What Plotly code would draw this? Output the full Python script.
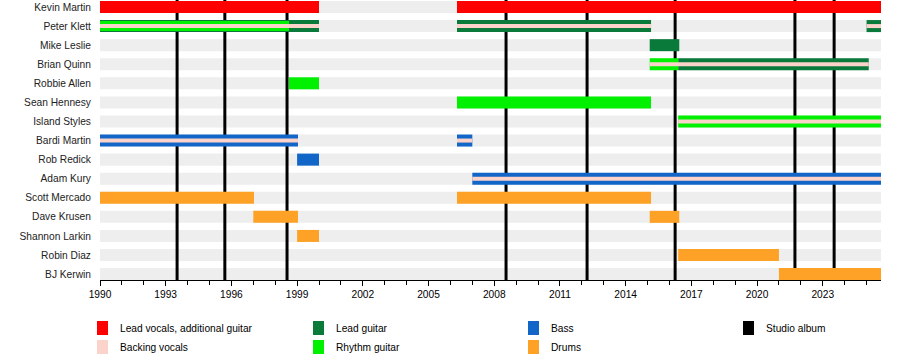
import plotly.graph_objects as go

END = 2025.66

members = ["Kevin Martin", "Peter Klett", "Mike Leslie", "Brian Quinn", "Robbie Allen",
           "Sean Hennesy", "Island Styles", "Bardi Martin", "Rob Redick", "Adam Kury",
           "Scott Mercado", "Dave Krusen", "Shannon Larkin", "Robin Diaz", "BJ Kerwin"]

lead_vocals = [("Kevin Martin", 1990.0, 2000.0), ("Kevin Martin", 2006.3, END)]
lead_guitar = [("Peter Klett", 1990.0, 2000.0), ("Peter Klett", 2006.3, 2015.16),
               ("Peter Klett", 2025.0, END), ("Mike Leslie", 2015.1, 2016.45),
               ("Brian Quinn", 2016.4, 2025.1)]
rhythm_guitar = [("Peter Klett", 1990.0, 1998.63), ("Brian Quinn", 2015.1, 2016.4),
                 ("Robbie Allen", 1998.63, 2000.0), ("Sean Hennesy", 2006.3, 2015.16),
                 ("Island Styles", 2016.4, END)]
bass = [("Bardi Martin", 1990.0, 1999.04), ("Bardi Martin", 2006.3, 2007.0),
        ("Rob Redick", 1999.0, 2000.0), ("Adam Kury", 2007.0, END)]
drums = [("Scott Mercado", 1990.0, 1997.03), ("Scott Mercado", 2006.3, 2015.16),
         ("Dave Krusen", 1997.0, 1999.04), ("Dave Krusen", 2015.1, 2016.45),
         ("Shannon Larkin", 1999.0, 2000.0), ("Robin Diaz", 2016.4, 2021.0),
         ("BJ Kerwin", 2021.0, END)]
backing_vocals = [("Peter Klett", 1990.0, 2000.0), ("Peter Klett", 2006.3, 2015.16),
                  ("Peter Klett", 2025.0, END), ("Brian Quinn", 2015.1, 2025.1),
                  ("Island Styles", 2016.4, END), ("Bardi Martin", 1990.0, 1999.04),
                  ("Bardi Martin", 2006.3, 2007.0), ("Adam Kury", 2007.0, END)]

studio_albums = [1993.52, 1995.7, 1998.54, 2008.54, 2012.24, 2016.26, 2021.73, 2023.52]

x_ticks = list(range(1990, 2024, 3))

legend_labels = ["Lead vocals, additional guitar", "Lead guitar", "Bass", "Studio album",
                 "Backing vocals", "Rhythm guitar", "Drums"]

COL = {
    "Lead vocals, additional guitar": "#ff0000",
    "Lead guitar": "#0a7a3a",
    "Bass": "#1166c8",
    "Studio album": "#000000",
    "Backing vocals": "#fcd3cb",
    "Rhythm guitar": "#00f000",
    "Drums": "#fda226",
}

FULL = 0.63
INNER = 0.52
THIN = 0.21
Y_TOP = -0.367
Y_BOT = 14.31
FS = 10.2

row = {m: i for i, m in enumerate(members)}


def overlaps(stints, name, s, e):
    return any(n == name and s < ee and e > ss for n, ss, ee in stints)


fig = go.Figure()


def add(stints, colour, widths):
    fig.add_trace(go.Bar(
        orientation="h",
        y=[row[n] for n, s, e in stints],
        x=[e - s for n, s, e in stints],
        base=[s for n, s, e in stints],
        width=widths,
        marker=dict(color=colour, line=dict(width=0)),
        showlegend=False,
        hoverinfo="skip",
    ))


add(lead_vocals, COL["Lead vocals, additional guitar"], [FULL] * len(lead_vocals))
add(lead_guitar, COL["Lead guitar"], [FULL] * len(lead_guitar))
add(rhythm_guitar, COL["Rhythm guitar"],
    [INNER if overlaps(lead_guitar, n, s, e) else FULL for n, s, e in rhythm_guitar])
add(bass, COL["Bass"], [FULL] * len(bass))
add(drums, COL["Drums"], [FULL] * len(drums))
add(backing_vocals, COL["Backing vocals"], [THIN] * len(backing_vocals))

shapes = []
for i in range(len(members)):
    shapes.append(dict(type="rect", xref="x", yref="y", x0=1990, x1=END,
                       y0=i - FULL / 2, y1=i + FULL / 2, fillcolor="#eeeeee",
                       line=dict(width=0), layer="below"))
for a in studio_albums:
    shapes.append(dict(type="line", xref="x", yref="y", x0=a, x1=a, y0=Y_TOP, y1=Y_BOT,
                       line=dict(color="#000000", width=3), layer="below"))

# legend (manual grid)
annotations = []
col_x = [97, 313, 528, 743]
row_y = [328, 347]
order = [(0, 0), (1, 0), (2, 0), (3, 0), (0, 1), (1, 1), (2, 1)]
for lab, (c, r) in zip(legend_labels, order):
    x0 = col_x[c]
    yc = row_y[r]
    shapes.append(dict(type="rect", xref="paper", yref="paper",
                       x0=(x0 - 100) / 781, x1=(x0 + 11 - 100) / 781,
                       y0=(280 - (yc + 7)) / 280, y1=(280 - (yc - 7)) / 280,
                       fillcolor=COL[lab], line=dict(width=0)))
    annotations.append(dict(xref="paper", yref="paper", x=(x0 + 21 - 100) / 781,
                            y=(280 - yc) / 280, text=lab, showarrow=False,
                            xanchor="left", yanchor="middle",
                            font=dict(size=FS, color="#000000", family="Liberation Sans")))

fig.update_layout(
    width=900, height=360,
    margin=dict(l=100, r=19, t=0, b=80),
    paper_bgcolor="white", plot_bgcolor="white",
    barmode="overlay",
    shapes=shapes,
    annotations=annotations,
    font=dict(family="Liberation Sans", size=FS, color="#000000"),
    xaxis=dict(range=[1990, END], tickvals=x_ticks, ticks="outside", ticklen=5,
               tickcolor="#000000", showline=True, linecolor="#000000", linewidth=1,
               showgrid=False, zeroline=False,
               minor=dict(dtick=1, tick0=1990, ticks="outside", ticklen=4,
                          tickcolor="#000000", showgrid=False),
               tickfont=dict(size=FS, color="#000000")),
    yaxis=dict(range=[Y_BOT, Y_TOP], tickvals=list(range(len(members))),
               ticktext=members, showgrid=False, zeroline=False, showline=False,
               ticks="outside", ticklen=6, tickcolor="rgba(0,0,0,0)",
               tickfont=dict(size=FS, color="#222222")),
)

fig.write_html("out.html", config={"displayModeBar": False},
               post_script="document.body.style.margin='0px';")
